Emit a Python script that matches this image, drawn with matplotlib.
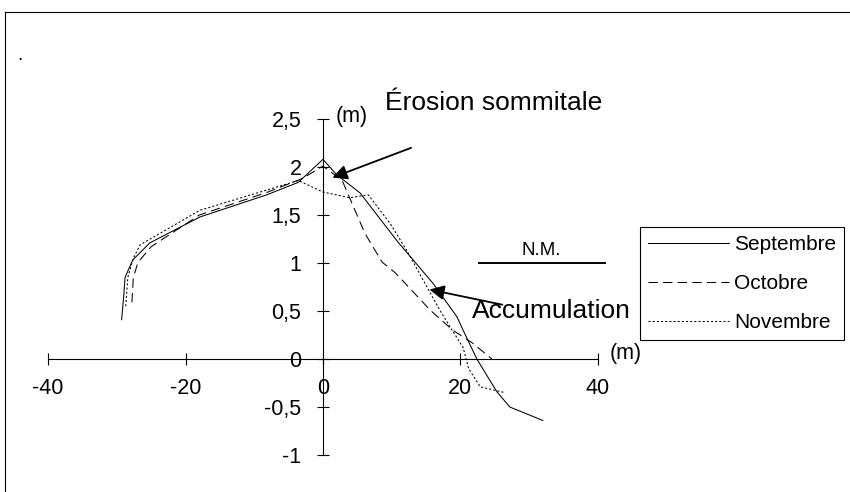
import numpy as np
import matplotlib
matplotlib.use('Agg')
import matplotlib.pyplot as plt
from matplotlib.lines import Line2D

plt.rcParams['font.family'] = ['Liberation Sans', 'DejaVu Sans']
plt.rcParams['axes.unicode_minus'] = False

# profils de plage (distance en m, altitude en m)
sept_x = [-29.3, -29.0, -28.8, -27.7, -25.2, -17.9, -8.2, -3.6, 0.0, 2.0, 5.4, 10.9, 16.0, 19.5, 20.4, 22.4, 25.3, 27.2, 32.0]
sept_y = [0.41, 0.65, 0.85, 1.03, 1.21, 1.48, 1.71, 1.84, 2.08, 1.92, 1.73, 1.22, 0.79, 0.44, 0.30, 0.0, -0.34, -0.50, -0.64]

oct_x = [-27.8, -27.6, -26.9, -25.0, -18.0, -8.0, -3.0, 0.0, 1.5, 2.8, 6.1, 8.6, 10.5, 15.6, 18.9, 21.7, 24.6]
oct_y = [0.59, 0.85, 1.01, 1.17, 1.50, 1.74, 1.88, 2.01, 1.93, 1.86, 1.31, 1.01, 0.90, 0.51, 0.30, 0.17, 0.0]

nov_x = [-28.7, -28.4, -27.6, -26.6, -17.9, -8.2, -3.6, 0.0, 3.9, 6.6, 9.8, 12.2, 14.6, 17.0, 18.8, 20.4, 21.2, 22.9, 26.5]
nov_y = [0.55, 0.85, 1.05, 1.19, 1.55, 1.76, 1.86, 1.74, 1.68, 1.71, 1.41, 1.13, 0.82, 0.51, 0.30, 0.12, -0.10, -0.29, -0.35]

xticks = [-40, -20, 0, 20, 40]
yticks = [-1, -0.5, 0, 0.5, 1, 1.5, 2, 2.5]
ytick_labels = ['-1', '-0,5', '0', '0,5', '1', '1,5', '2', '2,5']
noms = ['Septembre', 'Octobre', 'Novembre']

fig = plt.figure(figsize=(8.5, 4.92), dpi=100)
ax = fig.add_axes([0, 0, 1, 1])
ax.set_xlim(-47.0, 76.7)
ax.set_ylim(-1.385, 3.74)
ax.patch.set_alpha(0)

ax.plot(sept_x, sept_y, color='black', lw=0.75, ls='-', label=noms[0])
ax.plot(oct_x, oct_y, color='black', lw=0.75, ls=(0, (9, 5)), label=noms[1])
ax.plot(nov_x, nov_y, color='black', lw=0.75, ls=(0, (2, 2)), label=noms[2])

# axes en croix
for s in ['top', 'right']:
    ax.spines[s].set_visible(False)
ax.spines['left'].set_position(('data', 0))
ax.spines['bottom'].set_position(('data', 0))
ax.spines['left'].set_bounds(-1, 2.5)
ax.spines['bottom'].set_bounds(-40, 40)
ax.spines['left'].set_linewidth(0.8)
ax.spines['bottom'].set_linewidth(0.8)
ax.set_xticks(xticks)
ax.set_yticks(yticks)
ax.set_yticklabels(ytick_labels)
ax.tick_params(axis='both', direction='inout', length=9, width=0.8, labelsize=15.5)
ax.tick_params(axis='x', pad=9)
ax.tick_params(axis='y', pad=11)

ax.text(4.2, 2.53, '(m)', fontsize=15.5, ha='center', va='center')
ax.text(44.0, 0.06, '(m)', fontsize=15.5, ha='center', va='center')

# niveau marin
ax.plot([22.7, 41.0], [1, 1], color='black', lw=1.4)
ax.text(31.7, 1.13, 'N.M.', fontsize=13.5, ha='center', va='center')

ax.text(9.0, 2.67, 'Érosion sommitale', fontsize=19, ha='left', va='center')
ax.annotate('', xy=(1.0, 1.88), xytext=(13.2, 2.21),
            arrowprops=dict(arrowstyle='-|>', color='black', lw=1.3, mutation_scale=22))
ax.text(21.7, 0.5, 'Accumulation', fontsize=19, ha='left', va='center')
ax.annotate('', xy=(15.1, 0.73), xytext=(26.5, 0.56),
            arrowprops=dict(arrowstyle='-|>', color='black', lw=1.3, mutation_scale=22))

leg = ax.legend(loc='upper left', bbox_to_anchor=(640 / 850, 1 - 227 / 492),
                bbox_transform=fig.transFigure, borderaxespad=0, fancybox=False,
                edgecolor='black', framealpha=1, fontsize=15, handlelength=3.85,
                labelspacing=0.95, handletextpad=0.25, borderpad=0.4)
leg.get_frame().set_linewidth(0.8)

# cadre de la figure
fig.add_artist(Line2D([5 / 850, 5 / 850], [0, 1 - 12 / 492], color='black', lw=0.8))
fig.add_artist(Line2D([5 / 850, 1], [1 - 12 / 492, 1 - 12 / 492], color='black', lw=0.8))
fig.text(20 / 850, 1 - 56 / 492, '.', fontsize=14, ha='center', va='center')

fig.savefig('out.png', dpi=100)
